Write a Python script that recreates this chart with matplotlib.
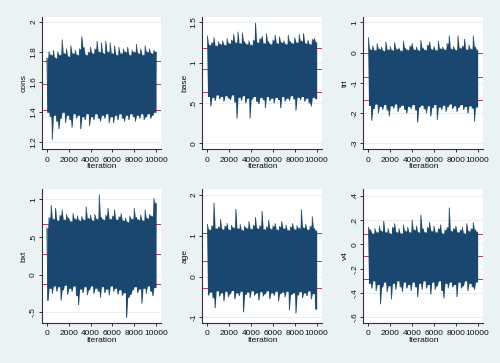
import matplotlib
matplotlib.use('Agg')
import matplotlib.pyplot as plt
import numpy as np

plt.rcParams['font.family'] = ['Liberation Sans', 'DejaVu Sans']

# MCMC draws every 100 iterations:
# *_hi are the upper swings (iter 0, 200, ..., 10000), *_lo the lower ones (iter 100, 300, ..., 9900)
iters = np.arange(0, 10001, 100)

cons_hi = [1.76, 1.80, 1.78, 1.81, 1.76, 1.80, 1.78, 1.88, 1.79, 1.82,
           1.77, 1.84, 1.79, 1.81, 1.78, 1.82, 1.90, 1.83, 1.78, 1.80,
           1.83, 1.79, 1.82, 1.87, 1.80, 1.86, 1.79, 1.87, 1.80, 1.86,
           1.79, 1.84, 1.78, 1.83, 1.79, 1.82, 1.80, 1.83, 1.78, 1.81,
           1.80, 1.85, 1.79, 1.82, 1.78, 1.84, 1.80, 1.82, 1.79, 1.81, 1.80]
cons_lo = [1.40, 1.37, 1.22, 1.38, 1.34, 1.29, 1.36, 1.40, 1.33, 1.38,
           1.35, 1.30, 1.39, 1.36, 1.38, 1.29, 1.37, 1.35, 1.39, 1.31,
           1.37, 1.35, 1.39, 1.36, 1.34, 1.38, 1.36, 1.39, 1.33, 1.37,
           1.33, 1.38, 1.35, 1.39, 1.36, 1.34, 1.38, 1.35, 1.39, 1.37,
           1.34, 1.38, 1.36, 1.39, 1.35, 1.37, 1.39, 1.36, 1.38, 1.40]

base_hi = [1.33, 1.22, 1.25, 1.31, 1.21, 1.26, 1.23, 1.27, 1.22, 1.30,
           1.24, 1.28, 1.35, 1.25, 1.38, 1.24, 1.37, 1.26, 1.23, 1.27,
           1.22, 1.28, 1.49, 1.25, 1.30, 1.33, 1.24, 1.36, 1.26, 1.23,
           1.28, 1.34, 1.24, 1.32, 1.25, 1.27, 1.23, 1.34, 1.26, 1.24,
           1.31, 1.25, 1.35, 1.27, 1.36, 1.24, 1.28, 1.23, 1.29, 1.30, 1.25]
base_lo = [0.58, 0.46, 0.57, 0.53, 0.60, 0.55, 0.58, 0.52, 0.59, 0.56,
           0.54, 0.60, 0.51, 0.31, 0.57, 0.53, 0.59, 0.50, 0.56, 0.31,
           0.55, 0.58, 0.52, 0.49, 0.57, 0.54, 0.44, 0.58, 0.53, 0.56,
           0.50, 0.57, 0.54, 0.44, 0.58, 0.52, 0.56, 0.53, 0.59, 0.55,
           0.41, 0.57, 0.54, 0.58, 0.52, 0.56, 0.50, 0.46, 0.57, 0.55]

trt_hi = [0.49, 0.10, 0.22, 0.08, 0.30, 0.12, 0.18, 0.06, 0.35, 0.10,
          0.20, 0.08, 0.33, 0.12, 0.15, 0.06, 0.38, 0.14, 0.09, 0.22,
          0.30, 0.10, 0.18, 0.07, 0.40, 0.15, 0.09, 0.25, 0.35, 0.11,
          0.20, 0.08, 0.38, 0.13, 0.18, 0.10, 0.30, 0.55, 0.12, 0.20,
          0.09, 0.55, 0.15, 0.22, 0.44, 0.10, 0.25, 0.12, 0.55, 0.18, 0.08]
trt_lo = [-1.75, -2.24, -1.85, -1.70, -2.00, -1.78, -1.88, -1.72, -1.90, -2.10,
          -1.76, -1.84, -1.70, -1.95, -1.80, -1.74, -1.88, -2.00, -1.78, -1.85,
          -1.72, -1.90, -2.30, -1.80, -1.74, -1.86, -2.00, -1.76, -2.10, -1.82,
          -1.72, -2.22, -1.80, -1.88, -1.74, -1.95, -1.78, -1.70, -1.86, -1.76,
          -1.95, -1.80, -1.72, -1.88, -1.78, -2.00, -1.76, -1.84, -2.27, -1.80]

bxt_hi = [0.62, 0.76, 0.92, 0.74, 0.88, 0.72, 0.79, 0.86, 0.73, 0.80,
          0.75, 0.71, 0.81, 0.74, 0.78, 0.72, 0.77, 0.73, 0.90, 0.75,
          0.79, 0.72, 0.80, 0.74, 1.06, 0.76, 0.73, 0.79, 0.88, 0.74,
          0.78, 0.86, 0.73, 0.77, 0.81, 0.72, 0.75, 0.70, 0.78, 0.74,
          0.88, 0.76, 0.73, 0.79, 0.72, 0.86, 0.75, 0.80, 0.78, 1.01, 0.95]
bxt_lo = [-0.34, -0.18, -0.25, -0.15, -0.22, -0.16, -0.34, -0.20, -0.14, -0.26,
          -0.18, -0.22, -0.15, -0.28, -0.40, -0.19, -0.24, -0.16, -0.27, -0.20,
          -0.15, -0.25, -0.18, -0.22, -0.30, -0.16, -0.24, -0.19, -0.27, -0.15,
          -0.22, -0.18, -0.26, -0.20, -0.28, -0.24, -0.57, -0.30, -0.26, -0.20,
          -0.16, -0.24, -0.19, -0.38, -0.18, -0.25, -0.15, -0.22, -0.28, -0.17]

age_hi = [1.28, 1.15, 1.25, 1.80, 1.18, 1.22, 1.40, 1.16, 1.24, 1.30,
          1.15, 1.26, 1.20, 1.65, 1.18, 1.28, 1.14, 1.24, 1.19, 1.35,
          1.17, 1.26, 1.45, 1.18, 1.25, 1.60, 1.16, 1.22, 1.38, 1.17,
          1.24, 1.30, 1.15, 1.23, 1.35, 1.18, 1.26, 1.14, 1.22, 1.30,
          1.16, 1.25, 1.19, 1.64, 1.20, 1.28, 1.15, 1.24, 1.47, 1.18, 1.12]
age_lo = [-0.45, -0.38, -0.52, -0.77, -0.35, -0.48, -0.40, -0.60, -0.36, -0.50,
          -0.42, -0.34, -0.55, -0.40, -0.47, -0.36, -0.87, -0.44, -0.38, -0.52,
          -0.35, -0.46, -0.40, -0.58, -0.37, -0.48, -0.42, -0.35, -0.55, -0.40,
          -0.46, -0.36, -0.60, -0.42, -0.38, -0.50, -0.36, -0.82, -0.44, -0.40,
          -0.90, -0.45, -0.37, -0.52, -0.40, -0.47, -0.35, -0.55, -0.42, -0.80]

v4_hi = [0.14, 0.12, 0.09, 0.13, 0.10, 0.15, 0.11, 0.19, 0.10, 0.13,
         0.09, 0.14, 0.17, 0.10, 0.13, 0.09, 0.16, 0.11, 0.14, 0.10,
         0.20, 0.12, 0.15, 0.10, 0.24, 0.13, 0.10, 0.14, 0.18, 0.11,
         0.15, 0.10, 0.13, 0.16, 0.09, 0.12, 0.14, 0.30, 0.11, 0.13,
         0.15, 0.10, 0.12, 0.14, 0.09, 0.17, 0.11, 0.13, 0.18, 0.12, 0.10]
v4_lo = [-0.32, -0.36, -0.30, -0.38, -0.33, -0.49, -0.35, -0.31, -0.39, -0.34,
         -0.45, -0.32, -0.37, -0.30, -0.35, -0.39, -0.31, -0.36, -0.33, -0.38,
         -0.31, -0.35, -0.43, -0.32, -0.37, -0.30, -0.36, -0.33, -0.41, -0.31,
         -0.37, -0.34, -0.30, -0.38, -0.44, -0.32, -0.36, -0.31, -0.35, -0.33,
         -0.43, -0.31, -0.36, -0.34, -0.30, -0.38, -0.32, -0.35, -0.37, -0.31]

# red reference lines (lower, centre, upper)
cons_ref = [1.414, 1.587, 1.739]
base_ref = [0.640, 0.917, 1.178]
trt_ref = [-1.57, -0.80, -0.005]
bxt_ref = [-0.124, 0.270, 0.668]
age_ref = [-0.289, 0.389, 1.06]
v4_ref = [-0.288, -0.098, 0.085]

names = ['cons', 'base', 'trt', 'bxt', 'age', 'v4']
his = [cons_hi, base_hi, trt_hi, bxt_hi, age_hi, v4_hi]
los = [cons_lo, base_lo, trt_lo, bxt_lo, age_lo, v4_lo]
refs = [cons_ref, base_ref, trt_ref, bxt_ref, age_ref, v4_ref]
yticks = [[1.2, 1.4, 1.6, 1.8, 2], [0, 0.5, 1, 1.5], [-3, -2, -1, 0, 1],
          [-0.5, 0, 0.5, 1], [-1, 0, 1, 2], [-0.6, -0.4, -0.2, 0, 0.2, 0.4]]
ylabels = [['1.2', '1.4', '1.6', '1.8', '2'], ['0', '.5', '1', '1.5'],
           ['-3', '-2', '-1', '0', '1'], ['-.5', '0', '.5', '1'],
           ['-1', '0', '1', '2'], ['-.6', '-.4', '-.2', '0', '.2', '.4']]
xticks = [0, 2000, 4000, 6000, 8000, 10000]

ylims = [(1.156, 2.031), (-0.071, 1.566), (-3.188, 1.175),
         (-0.638, 1.137), (-1.132, 2.147), (-0.644, 0.455)]

W, H = 500, 363
fig = plt.figure(figsize=(W / 100, H / 100), dpi=100)
fig.patch.set_facecolor('#eaf2f3')

lefts = [41.7, 202.3, 363.3]
rows = [(17, 149), (189, 322.7)]
wpx = 119.5
navy = '#1a476f'

for k in range(6):
    r, c = divmod(k, 3)
    top, bot = rows[r]
    hpx = bot - top
    ax = fig.add_axes([lefts[c] / W, 1 - bot / H, wpx / W, hpx / H])
    ax.set_facecolor('white')
    for s in ['top', 'right']:
        ax.spines[s].set_visible(False)
    for s in ['left', 'bottom']:
        ax.spines[s].set_color('#333333')
        ax.spines[s].set_linewidth(0.8)

    tr = np.empty(101)
    tr[0::2] = his[k]
    tr[1::2] = los[k]
    # solid core: between each draw and its neighbours
    top_env = tr.copy()
    low_env = tr.copy()
    top_env[1:-1:2] = np.minimum(tr[0:-2:2], tr[2::2])
    low_env[2:-1:2] = np.maximum(tr[1:-2:2], tr[3::2])
    low_env[0], low_env[-1] = tr[1], tr[-2]

    ax.set_xlim(-470, 10470)
    ax.set_ylim(*ylims[k])
    ax.set_xticks(xticks)
    ax.set_yticks(yticks[k])
    ax.set_yticklabels(ylabels[k], rotation=90, va='center')
    ax.tick_params(length=2.0, width=0.7, color='#333333', labelsize=6,
                   labelcolor='#111111')
    ax.tick_params(axis='x', pad=3.4)
    ax.tick_params(axis='y', pad=1.3)
    ax.grid(axis='y', color='#e3ecee', lw=0.6)
    ax.set_axisbelow(True)

    for v in refs[k]:
        ax.axhline(v, color='#c8344e', lw=0.7, zorder=1.5)
    ax.fill_between(iters, low_env, top_env, color=navy, lw=0, zorder=2)
    ax.plot(iters, tr, color=navy, lw=0.6, zorder=2.1)

    ax.set_xlabel('Iteration', fontsize=6, color='#111111')
    ax.xaxis.set_label_coords(0.5, -14.3 / hpx)
    ax.set_ylabel(names[k], fontsize=6, color='#111111')
    ax.yaxis.set_label_coords(-14.0 / wpx, 0.5)

fig.savefig('out.png', dpi=100, facecolor=fig.get_facecolor())
